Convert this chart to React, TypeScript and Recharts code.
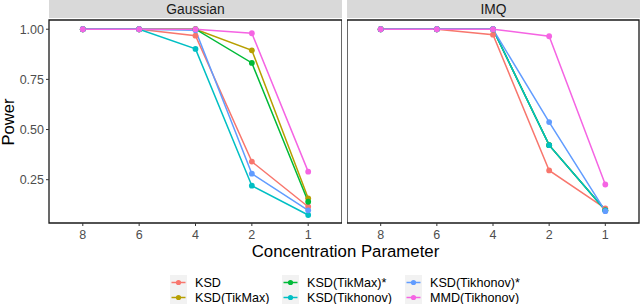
import React from "react";
import { LineChart, Line, XAxis, YAxis, ReferenceArea } from "recharts";

const categories = ["8", "6", "4", "2", "1"];
const seriesNames = [
  "KSD",
  "KSD(TikMax)",
  "KSD(TikMax)*",
  "KSD(Tikhonov)",
  "KSD(Tikhonov)*",
  "MMD(Tikhonov)",
];
const seriesColors = ["#F8766D", "#B79F00", "#00BA38", "#00BFC4", "#619CFF", "#F564E3"];
const yTicks = [0.25, 0.5, 0.75, 1.0];

const gaussKSD = [1, 1, 0.968, 0.34, 0.115];
const gaussTikMax = [1, 1, 1, 0.895, 0.157];
const gaussTikMaxStar = [1, 1, 1, 0.832, 0.14];
const gaussTikhonov = [1, 1, 0.902, 0.22, 0.074];
const gaussTikhonovStar = [1, 1, 0.995, 0.28, 0.097];
const gaussMMD = [1, 1, 1, 0.98, 0.29];

const imqKSD = [1, 1, 0.973, 0.296, 0.107];
const imqTikMax = [1, 1, 1, 0.422, 0.097];
const imqTikMaxStar = [1, 1, 1, 0.422, 0.097];
const imqTikhonov = [1, 1, 1, 0.422, 0.097];
const imqTikhonovStar = [1, 1, 1, 0.537, 0.093];
const imqMMD = [1, 1, 1, 0.965, 0.226];

const gaussSeries = [gaussKSD, gaussTikMax, gaussTikMaxStar, gaussTikhonov, gaussTikhonovStar, gaussMMD];
const imqSeries = [imqKSD, imqTikMax, imqTikMaxStar, imqTikhonov, imqTikhonovStar, imqMMD];

const buildRows = (series: number[][]) =>
  categories.map((c, i) => {
    const row: any = { x: i, label: c };
    series.forEach((s, k) => {
      row["s" + k] = s[i];
    });
    return row;
  });

const gaussRows = buildRows(gaussSeries);
const imqRows = buildRows(imqSeries);

const FONT = "'Liberation Sans', Arial, Helvetica, sans-serif";
const Y_DOMAIN: [number, number] = [0.034, 1.046];
const X_DOMAIN: [number, number] = [-0.6, 4.6];

function Panel({ rows, showY, width, marginRight }: any) {
  return (
    <LineChart
      width={width}
      height={250}
      data={rows}
      margin={{ top: 20, right: marginRight, bottom: 0, left: 0 }}
    >
      <XAxis
        dataKey="x"
        type="number"
        domain={X_DOMAIN}
        ticks={[0, 1, 2, 3, 4]}
        tickFormatter={(v: number) => categories[v]}
        allowDataOverflow
        height={27}
        axisLine={false}
        tickLine={{ stroke: "#333333" }}
        tickSize={3}
        tickMargin={4}
        tick={{ fill: "#4D4D4D", fontSize: 12.5, fontFamily: FONT }}
      />
      <YAxis
        type="number"
        domain={Y_DOMAIN}
        ticks={yTicks}
        allowDataOverflow
        hide={!showY}
        width={49}
        axisLine={false}
        tickLine={{ stroke: "#333333" }}
        tickSize={3}
        tickMargin={2}
        tickFormatter={(v: number) => v.toFixed(2)}
        tick={{ fill: "#4D4D4D", fontSize: 12.5, fontFamily: FONT }}
      />
      <ReferenceArea
        x1={X_DOMAIN[0]}
        x2={X_DOMAIN[1]}
        y1={Y_DOMAIN[0]}
        y2={Y_DOMAIN[1]}
        fill="none"
        stroke="#1A1A1A"
        strokeWidth={1.3}
        ifOverflow="visible"
      />
      {seriesNames.map((n, k) => (
        <Line
          key={n}
          dataKey={"s" + k}
          name={n}
          stroke={seriesColors[k]}
          strokeWidth={1.5}
          dot={{ r: 2.9, fill: seriesColors[k], stroke: seriesColors[k], strokeWidth: 0 }}
          isAnimationActive={false}
        />
      ))}
    </LineChart>
  );
}

function LegendKey({ color }: { color: string }) {
  return (
    <svg width={17} height={15} style={{ display: "block" }}>
      <rect x={0} y={0} width={17} height={15} fill="#F2F2F2" />
      <line x1={1.5} y1={7.5} x2={15.5} y2={7.5} stroke={color} strokeWidth={1.5} />
      <circle cx={8.5} cy={7.5} r={2.6} fill={color} />
    </svg>
  );
}

export default function App() {
  const legendCols = [170, 282, 405];
  const legendRows = [275, 290];
  return (
    <div
      style={{
        position: "fixed",
        left: 0,
        top: 0,
        width: 640,
        height: 304,
        background: "#FFFFFF",
        fontFamily: FONT,
        overflow: "hidden",
      }}
    >
      <div style={{ position: "absolute", left: 0, top: 0 }}>
        <Panel rows={gaussRows} showY={true} width={342} marginRight={0} />
      </div>
      <div style={{ position: "absolute", left: 347, top: 0 }}>
        <Panel rows={imqRows} showY={false} width={293} marginRight={1} />
      </div>
      {[
        { t: "Gaussian", l: 49, w: 293 },
        { t: "IMQ", l: 347, w: 293 },
      ].map((s) => (
        <div
          key={s.t}
          style={{
            position: "absolute",
            left: s.l,
            top: 0,
            width: s.w,
            height: 18,
            background: "#D9D9D9",
            color: "#1A1A1A",
            fontSize: 13.8,
            lineHeight: "20px",
            textAlign: "center",
            overflow: "hidden",
          }}
        >
          {s.t}
        </div>
      ))}
      <div
        style={{
          position: "absolute",
          left: 49,
          width: 593,
          top: 242,
          textAlign: "center",
          fontSize: 16.8,
          lineHeight: "19px",
          color: "#000",
          whiteSpace: "nowrap",
        }}
      >
        Concentration Parameter
      </div>
      <div
        style={{
          position: "absolute",
          left: 8,
          top: 122,
          transform: "translate(-50%, -50%) rotate(-90deg)",
          fontSize: 16.5,
          color: "#000",
          whiteSpace: "nowrap",
        }}
      >
        Power
      </div>
      {seriesNames.map((n, k) => {
        const col = Math.floor(k / 2);
        const row = k % 2;
        return (
          <div
            key={n}
            style={{
              position: "absolute",
              left: legendCols[col],
              top: legendRows[row],
              display: "flex",
              alignItems: "center",
              height: 15,
              whiteSpace: "nowrap",
            }}
          >
            <LegendKey color={seriesColors[k]} />
            <span style={{ marginLeft: 8, fontSize: 12.6, color: "#000" }}>{n}</span>
          </div>
        );
      })}
    </div>
  );
}
